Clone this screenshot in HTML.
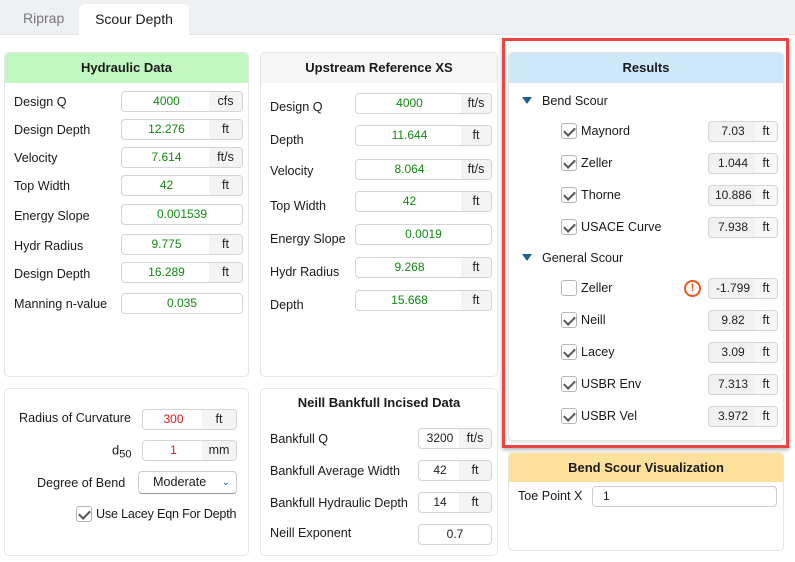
<!DOCTYPE html>
<html><head><meta charset="utf-8"><style>
*{box-sizing:border-box;margin:0;padding:0}
body{width:795px;height:562px;background:#fff;font-family:"Segoe UI","Liberation Sans",sans-serif;font-size:12.6px;color:#1a1a1a;position:relative;overflow:hidden}
.a{position:absolute}
.tabbar{left:0;top:0;width:795px;height:35px;background:#eef0f3;border-bottom:1px solid #e3e5e8}
.panel{position:absolute;background:#fff;border:1px solid #e6e6e6;border-radius:5px;overflow:hidden}
.hdr{position:absolute;left:0;top:0;right:0;height:30px;text-align:center;line-height:30px;font-weight:bold;font-size:13px}
.lbl{position:absolute;white-space:nowrap;transform:translateY(-50%)}
.inp{position:absolute;height:21px;border:1px solid #d4d4d4;border-radius:4px;background:#fff;overflow:hidden;font-size:12px}
.inp .v{position:absolute;left:0;top:0;bottom:0;text-align:center;line-height:19px;color:#118811}
.inp .u{position:absolute;top:0;bottom:0;right:0;background:#f4f4f4;text-align:center;line-height:19px;color:#222;font-size:12.5px}
.ro{background:#f1f1f1}
.ro .v{color:#222}
.cb{position:absolute;width:16px;height:16px;border:1px solid #b5b5b5;border-radius:3px;background:#fff;transform:translateY(-50%)}
.cb.on::after{content:"";position:absolute;left:4px;top:1px;width:5px;height:9px;border:solid #555;border-width:0 2.6px 2.6px 0;transform:rotate(45deg)}
.tri{position:absolute;width:0;height:0;border-left:5px solid transparent;border-right:5px solid transparent;border-top:7px solid #1f5f8b}
</style></head><body>
<div class="a tabbar"></div>
<div class="a" style="left:23px;top:10px;color:#777;font-size:14px">Riprap</div>
<div class="a" style="left:79px;top:4px;width:110px;height:32px;background:#fff;border-radius:6px 6px 0 0;text-align:center;line-height:30px;font-size:14px">Scour Depth</div>

<!-- Panel 1 -->
<div class="panel" style="left:4px;top:52px;width:245px;height:325px"><div class="hdr" style="background:#c1f8c1">Hydraulic Data</div></div>
<div class="lbl" style="left:14px;top:102px">Design Q</div>
<div class="inp" style="left:121px;top:91px;width:122px"><div class="v" style="width:89px">4000</div><div class="u" style="width:33px">cfs</div></div>
<div class="lbl" style="left:14px;top:130px">Design Depth</div>
<div class="inp" style="left:121px;top:119px;width:122px"><div class="v" style="width:89px">12.276</div><div class="u" style="width:33px">ft</div></div>
<div class="lbl" style="left:14px;top:158px">Velocity</div>
<div class="inp" style="left:121px;top:147px;width:122px"><div class="v" style="width:89px">7.614</div><div class="u" style="width:33px">ft/s</div></div>
<div class="lbl" style="left:14px;top:186px">Top Width</div>
<div class="inp" style="left:121px;top:175px;width:122px"><div class="v" style="width:89px">42</div><div class="u" style="width:33px">ft</div></div>
<div class="lbl" style="left:14px;top:216px">Energy Slope</div>
<div class="inp" style="left:121px;top:204px;width:122px"><div class="v" style="width:120px">0.001539</div></div>
<div class="lbl" style="left:14px;top:246px">Hydr Radius</div>
<div class="inp" style="left:121px;top:234px;width:122px"><div class="v" style="width:89px">9.775</div><div class="u" style="width:33px">ft</div></div>
<div class="lbl" style="left:14px;top:274px">Design Depth</div>
<div class="inp" style="left:121px;top:262px;width:122px"><div class="v" style="width:89px">16.289</div><div class="u" style="width:33px">ft</div></div>
<div class="lbl" style="left:14px;top:304px">Manning n-value</div>
<div class="inp" style="left:121px;top:293px;width:122px"><div class="v" style="width:120px">0.035</div></div>

<!-- Panel 2 -->
<div class="panel" style="left:260px;top:52px;width:238px;height:325px"><div class="hdr" style="background:#f6f6f6">Upstream Reference XS</div></div>
<div class="lbl" style="left:270px;top:107px">Design Q</div>
<div class="inp" style="left:355px;top:93px;width:137px"><div class="v" style="width:107px">4000</div><div class="u" style="width:30px">ft/s</div></div>
<div class="lbl" style="left:270px;top:140px">Depth</div>
<div class="inp" style="left:355px;top:125px;width:137px"><div class="v" style="width:107px">11.644</div><div class="u" style="width:30px">ft</div></div>
<div class="lbl" style="left:270px;top:171px">Velocity</div>
<div class="inp" style="left:355px;top:159px;width:137px"><div class="v" style="width:107px">8.064</div><div class="u" style="width:30px">ft/s</div></div>
<div class="lbl" style="left:270px;top:206px">Top Width</div>
<div class="inp" style="left:355px;top:191px;width:137px"><div class="v" style="width:107px">42</div><div class="u" style="width:30px">ft</div></div>
<div class="lbl" style="left:270px;top:239px">Energy Slope</div>
<div class="inp" style="left:355px;top:224px;width:137px"><div class="v" style="width:135px">0.0019</div></div>
<div class="lbl" style="left:270px;top:272px">Hydr Radius</div>
<div class="inp" style="left:355px;top:257px;width:137px"><div class="v" style="width:107px">9.268</div><div class="u" style="width:30px">ft</div></div>
<div class="lbl" style="left:270px;top:305px">Depth</div>
<div class="inp" style="left:355px;top:290px;width:137px"><div class="v" style="width:107px">15.668</div><div class="u" style="width:30px">ft</div></div>

<!-- Panel 4 -->
<div class="panel" style="left:4px;top:388px;width:245px;height:168px"></div>
<div class="lbl" style="left:19px;top:418px">Radius of Curvature</div>
<div class="inp" style="left:142px;top:409px;width:95px"><div class="v" style="width:61px;color:#e01818">300</div><div class="u" style="width:34px">ft</div></div>
<div class="lbl" style="left:112px;top:450px;font-size:13px">d<span style="font-size:11px;position:relative;top:3px">50</span></div>
<div class="inp" style="left:142px;top:440px;width:95px"><div class="v" style="width:61px;color:#e01818">1</div><div class="u" style="width:34px">mm</div></div>
<div class="lbl" style="left:37px;top:483px">Degree of Bend</div>
<div class="a" style="left:138px;top:471px;width:99px;height:23px;border:1px solid #ccc;border-bottom-color:#999;border-radius:4px;line-height:21px;padding-left:14px">Moderate<span style="position:absolute;right:6px;top:0;color:#1f5f8b;font-size:10px">&#8964;</span></div>
<div class="cb on" style="left:76px;top:514px"></div>
<div class="lbl" style="left:96px;top:514px;letter-spacing:-0.2px">Use Lacey Eqn For Depth</div>

<!-- Panel 5 -->
<div class="panel" style="left:260px;top:388px;width:238px;height:168px"></div>
<div class="a" style="left:260px;top:395px;width:238px;text-align:center;font-weight:bold;font-size:13px">Neill Bankfull Incised Data</div>
<div class="lbl" style="left:270px;top:439px">Bankfull Q</div>
<div class="inp" style="left:418px;top:428px;width:74px"><div class="v" style="width:42px;color:#222">3200</div><div class="u" style="width:32px">ft/s</div></div>
<div class="lbl" style="left:270px;top:471px">Bankfull Average Width</div>
<div class="inp" style="left:418px;top:460px;width:74px"><div class="v" style="width:42px;color:#222">42</div><div class="u" style="width:32px">ft</div></div>
<div class="lbl" style="left:270px;top:503px">Bankfull Hydraulic Depth</div>
<div class="inp" style="left:418px;top:492px;width:74px"><div class="v" style="width:42px;color:#222">14</div><div class="u" style="width:32px">ft</div></div>
<div class="lbl" style="left:270px;top:533px">Neill Exponent</div>
<div class="inp" style="left:418px;top:524px;width:74px"><div class="v" style="width:72px;color:#222">0.7</div></div>

<!-- Results -->
<div class="panel" style="left:508px;top:52px;width:276px;height:389px;box-shadow:0 1px 3px rgba(0,0,0,.15)"><div class="hdr" style="background:#cce8fa">Results</div></div>
<div class="a" style="left:502px;top:38px;width:287px;height:410px;border:3px solid #ee4444;box-shadow:0 2px 4px rgba(0,0,0,.3)"></div>
<div class="tri" style="left:522px;top:97px"></div>
<div class="lbl" style="left:542px;top:101px">Bend Scour</div>
<div class="cb on" style="left:561px;top:131px"></div><div class="lbl" style="left:581px;top:131px">Maynord</div>
<div class="inp ro" style="left:708px;top:121px;width:70px"><div class="v" style="width:48px">7.03</div><div class="u" style="width:22px;background:#f7f7f7">ft</div></div>
<div class="cb on" style="left:561px;top:163px"></div><div class="lbl" style="left:581px;top:163px">Zeller</div>
<div class="inp ro" style="left:708px;top:153px;width:70px"><div class="v" style="width:48px">1.044</div><div class="u" style="width:22px;background:#f7f7f7">ft</div></div>
<div class="cb on" style="left:561px;top:195px"></div><div class="lbl" style="left:581px;top:195px">Thorne</div>
<div class="inp ro" style="left:708px;top:185px;width:70px"><div class="v" style="width:48px;overflow:hidden;white-space:nowrap;text-indent:6px;text-align:left">10.886</div><div class="u" style="width:22px;background:#f7f7f7">ft</div></div>
<div class="cb on" style="left:561px;top:227px"></div><div class="lbl" style="left:581px;top:227px">USACE Curve</div>
<div class="inp ro" style="left:708px;top:217px;width:70px"><div class="v" style="width:48px">7.938</div><div class="u" style="width:22px;background:#f7f7f7">ft</div></div>
<div class="tri" style="left:522px;top:254px"></div>
<div class="lbl" style="left:542px;top:258px">General Scour</div>
<div class="cb" style="left:561px;top:288px"></div><div class="lbl" style="left:581px;top:288px">Zeller</div>
<div class="a" style="left:684px;top:280px;width:17px;height:17px;border:2px solid #f0561e;border-radius:50%;color:#f0561e;font-weight:bold;font-size:11px;text-align:center;line-height:13px">!</div>
<div class="inp ro" style="left:708px;top:278px;width:70px"><div class="v" style="width:48px">-1.799</div><div class="u" style="width:22px;background:#f7f7f7">ft</div></div>
<div class="cb on" style="left:561px;top:320px"></div><div class="lbl" style="left:581px;top:320px">Neill</div>
<div class="inp ro" style="left:708px;top:310px;width:70px"><div class="v" style="width:48px">9.82</div><div class="u" style="width:22px;background:#f7f7f7">ft</div></div>
<div class="cb on" style="left:561px;top:352px"></div><div class="lbl" style="left:581px;top:352px">Lacey</div>
<div class="inp ro" style="left:708px;top:342px;width:70px"><div class="v" style="width:48px">3.09</div><div class="u" style="width:22px;background:#f7f7f7">ft</div></div>
<div class="cb on" style="left:561px;top:384px"></div><div class="lbl" style="left:581px;top:384px">USBR Env</div>
<div class="inp ro" style="left:708px;top:374px;width:70px"><div class="v" style="width:48px">7.313</div><div class="u" style="width:22px;background:#f7f7f7">ft</div></div>
<div class="cb on" style="left:561px;top:416px"></div><div class="lbl" style="left:581px;top:416px">USBR Vel</div>
<div class="inp ro" style="left:708px;top:406px;width:70px"><div class="v" style="width:48px">3.972</div><div class="u" style="width:22px;background:#f7f7f7">ft</div></div>

<!-- Bend Scour Viz -->
<div class="panel" style="left:508px;top:452px;width:276px;height:99px"><div class="hdr" style="background:#fde19a;height:29px;line-height:29px">Bend Scour Visualization</div></div>
<div class="lbl" style="left:518px;top:496px">Toe Point X</div>
<div class="a" style="left:592px;top:486px;width:185px;height:21px;border:1px solid #ccc;border-radius:4px;line-height:19px;padding-left:10px;font-size:12px">1</div>
</body></html>
